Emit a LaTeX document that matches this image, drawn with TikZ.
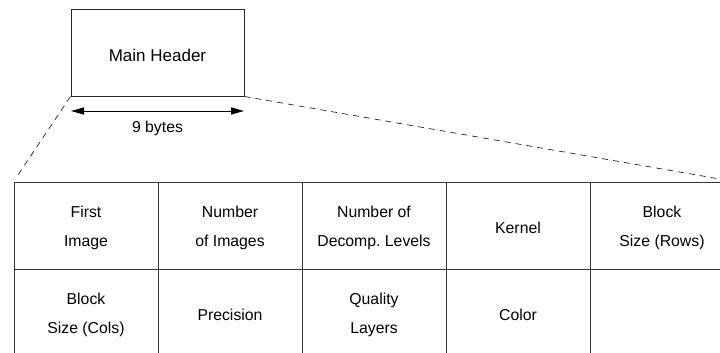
\documentclass[tikz,border=0pt]{standalone}
\usepackage{fontspec}
\setmainfont{Liberation Sans}
\usetikzlibrary{arrows.meta}
\begin{document}
\begin{tikzpicture}[x=1pt,y=-1pt,
  hdr/.style={draw=black!85,line width=1pt,minimum width=173pt,minimum height=86pt,inner sep=0pt},
  cell/.style={draw=black!80,line width=0.9pt,minimum width=144pt,minimum height=87pt,inner sep=0pt},
  celltext/.style={align=center,inner sep=0pt,yshift=-2.2pt,font=\fontsize{15.8}{29}\selectfont},
  zoomline/.style={dashed,dash pattern=on 6pt off 5pt,line width=0.7pt,black!85},
  lbl/.style={font=\fontsize{15.8}{18}\selectfont,inner sep=0pt}]
\useasboundingbox (0,0) rectangle (720,353);
\clip (0,0) rectangle (720,353);
\node[hdr,label={[yshift=-2pt,inner sep=0pt,font=\fontsize{17}{20}\selectfont]center:Main Header}] (main) at (157.5,53) {};
\coordinate (al) at (71,111);
\coordinate (ar) at (244,111);
\draw[{Triangle[length=13pt,width=7pt]}-{Triangle[length=13pt,width=7pt]},line width=1pt] (al) -- (ar);
\node[lbl,anchor=base] (bytes) at (157.5,132.7) {9 bytes};
\node[cell,label={[celltext]center:First\\Image}] (c11) at (86,225.5) {};
\node[cell,label={[celltext]center:Number\\of Images}] (c12) at (230,225.5) {};
\node[cell,label={[celltext]center:Number of\\Decomp.\ Levels}] (c13) at (374,225.5) {};
\node[cell,label={[celltext]center:Kernel}] (c14) at (518,225.5) {};
\node[cell,label={[celltext]center:Block\\Size (Rows)}] (c15) at (662,225.5) {};
\node[cell,label={[celltext]center:Block\\Size (Cols)}] (c21) at (86,312.5) {};
\node[cell,label={[celltext]center:Precision}] (c22) at (230,312.5) {};
\node[cell,label={[celltext]center:Quality\\Layers}] (c23) at (374,312.5) {};
\node[cell,label={[celltext]center:Color}] (c24) at (518,312.5) {};
\node[cell] (c25) at (662,312.5) {};
\draw[zoomline,shorten >=7pt] (main.south west) -- (c11.north west);
\draw[zoomline] (main.south east) -- (c15.north east);
\end{tikzpicture}
\end{document}
